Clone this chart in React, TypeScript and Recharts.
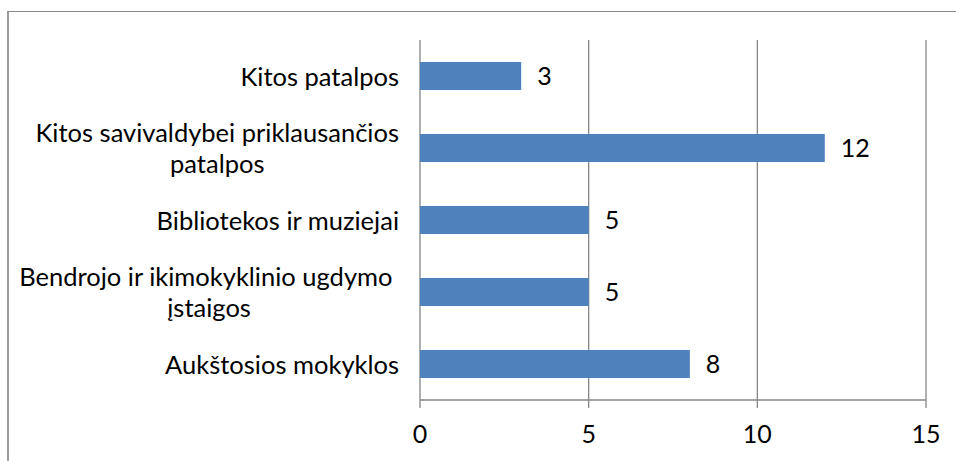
import { BarChart, Bar, XAxis, YAxis, CartesianGrid, LabelList } from 'recharts';

const categories = [
  'Kitos patalpos',
  'Kitos savivaldybei priklausančios\npatalpos',
  'Bibliotekos ir muziejai',
  'Bendrojo ir ikimokyklinio ugdymo \nįstaigos',
  'Aukštosios mokyklos',
];
const values = [3, 12, 5, 5, 8];
const xTicks = [0, 5, 10, 15];
const bandEdges = [0, 1, 2, 3, 4, 5];

const data = categories.map((name, i) => ({ name, value: values[i] }));

const FONT = 'Lato, "Open Sans", sans-serif';
const GRID = '#868686';

const CategoryTick = ({ y, payload }: any) => (
  <foreignObject x={0} y={y - 40} width={399} height={80}>
    <div
      style={{
        height: '100%',
        display: 'flex',
        alignItems: 'center',
        justifyContent: 'flex-end',
        fontFamily: FONT,
        fontSize: 25.5,
        color: '#000',
      }}
    >
      <span style={{ textAlign: 'center', whiteSpace: 'pre', lineHeight: '31px' }}>{payload.value}</span>
    </div>
  </foreignObject>
);

export default function App() {
  return (
    <div style={{ position: 'fixed', left: 0, top: 0, width: 956, height: 461, overflow: 'hidden', background: '#fff' }}>
      <div
        style={{
          position: 'absolute',
          left: 7,
          top: 11,
          width: 1000,
          height: 1000,
          borderTop: '1px solid #878787',
          borderLeft: '2px solid #9a9a9a',
        }}
      />
      <div style={{ position: 'absolute', left: 0, top: 0 }}>
        <BarChart
          width={956}
          height={461}
          layout="vertical"
          data={data}
          barCategoryGap={22}
          margin={{ top: 40, right: 30, bottom: 0, left: 0 }}
        >
          <CartesianGrid horizontal={false} stroke={GRID} strokeWidth={1.3} />
          <YAxis
            yAxisId="edges"
            type="number"
            domain={[0, 5]}
            ticks={bandEdges}
            reversed
            width={0}
            tick={false}
            tickSize={8}
            axisLine={{ stroke: GRID, strokeWidth: 1.3 }}
            tickLine={{ stroke: GRID, strokeWidth: 1.3 }}
          />
          <YAxis
            yAxisId="cat"
            type="category"
            dataKey="name"
            width={420}
            axisLine={false}
            tickLine={false}
            tick={<CategoryTick />}
            interval={0}
          />
          <XAxis
            type="number"
            domain={[0, 15]}
            ticks={xTicks}
            height={61}
            tickSize={8}
            tickMargin={17}
            axisLine={{ stroke: GRID, strokeWidth: 1.3 }}
            tickLine={{ stroke: GRID, strokeWidth: 1.3 }}
            tick={{ fill: '#000', fontSize: 25, fontFamily: FONT }}
          />
          <Bar yAxisId="cat" dataKey="value" fill="#4F81BD" barSize={28} isAnimationActive={false}>
            <LabelList dataKey="value" position="right" offset={16} fill="#000" fontSize={25} fontFamily={FONT} />
          </Bar>
        </BarChart>
      </div>
    </div>
  );
}
